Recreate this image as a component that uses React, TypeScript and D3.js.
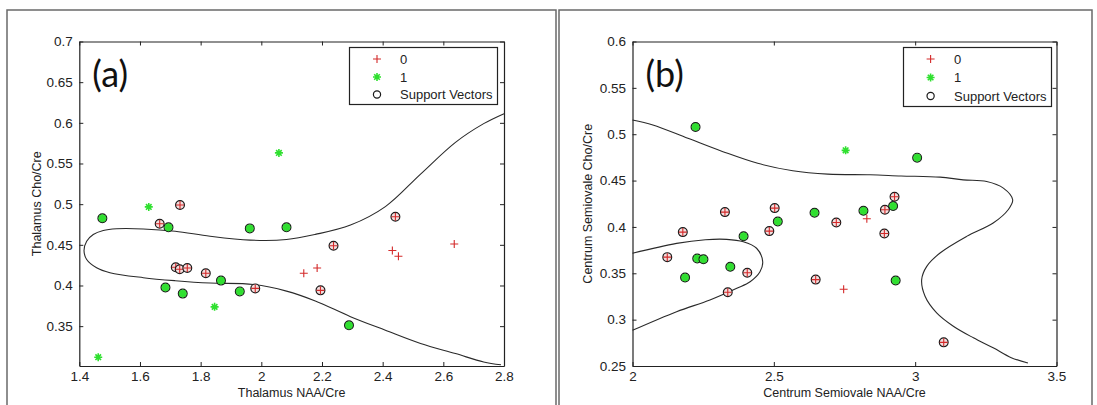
import * as d3 from "d3";
import { useEffect, useRef } from "react";

type Pt = [number, number];

// ---- panel (a) : Thalamus ----
const thalamusClass0: Pt[] = [[2.14, 0.415], [2.184, 0.4215], [2.432, 0.443], [2.452, 0.436], [2.636, 0.451]];
const thalamusClass0SV: Pt[] = [
  [1.665, 0.476], [1.732, 0.499], [1.718, 0.4224], [1.731, 0.42], [1.756, 0.4215],
  [1.817, 0.415], [1.98, 0.3964], [2.195, 0.394], [2.238, 0.4488], [2.442, 0.4846],
];
const thalamusClass1: Pt[] = [[1.629, 0.4966], [2.058, 0.563], [1.846, 0.3737], [1.4624, 0.3118]];
const thalamusClass1SV: Pt[] = [
  [1.476, 0.4826], [1.694, 0.4715], [1.962, 0.4702], [2.083, 0.4715], [1.684, 0.3976],
  [1.741, 0.39], [1.867, 0.406], [1.929, 0.3927], [2.289, 0.351],
];
const thalamusBoundary: Pt[] = [
  [2.8, 0.6113], [2.733, 0.599], [2.64, 0.576], [2.525, 0.537], [2.409, 0.497], [2.294, 0.4743],
  [2.178, 0.4628], [2.083, 0.4565], [1.963, 0.4558], [1.831, 0.4605], [1.716, 0.4667], [1.611, 0.4695],
  [1.523, 0.4697], [1.479, 0.4676], [1.446, 0.4627], [1.4243, 0.4544], [1.4155, 0.443], [1.4243, 0.432],
  [1.457, 0.4218], [1.501, 0.4157], [1.611, 0.4096], [1.716, 0.4059], [1.831, 0.403], [1.974, 0.4013],
  [2.083, 0.3931], [2.178, 0.381], [2.294, 0.3617], [2.409, 0.345], [2.525, 0.3287], [2.64, 0.3163],
  [2.733, 0.306], [2.79, 0.3025],
];
const thalamusXTicks = [1.4, 1.6, 1.8, 2, 2.2, 2.4, 2.6, 2.8];
const thalamusYTicks = [0.35, 0.4, 0.45, 0.5, 0.55, 0.6, 0.65, 0.7];

// ---- panel (b) : Centrum Semiovale ----
const centrumClass0: Pt[] = [[2.829, 0.4088], [2.747, 0.3328]];
const centrumClass0SV: Pt[] = [
  [2.123, 0.3674], [2.178, 0.3944], [2.327, 0.416], [2.337, 0.3296], [2.406, 0.3505],
  [2.484, 0.3955], [2.503, 0.4203], [2.648, 0.3432], [2.721, 0.4048], [2.891, 0.3929],
  [2.893, 0.4185], [2.927, 0.4325], [3.101, 0.2755],
];
const centrumClass1: Pt[] = [[2.754, 0.4826]];
const centrumClass1SV: Pt[] = [
  [2.223, 0.5078], [2.186, 0.3454], [2.229, 0.366], [2.251, 0.3652], [2.346, 0.357],
  [2.393, 0.39], [2.514, 0.4059], [2.644, 0.4153], [2.817, 0.4174], [2.922, 0.4225],
  [3.007, 0.4747], [2.931, 0.3422],
];
const centrumBoundaryOuter: Pt[] = [
  [2.0, 0.5154], [2.072, 0.51], [2.196, 0.4956], [2.32, 0.4812], [2.443, 0.4686], [2.567, 0.4606],
  [2.691, 0.457], [2.84, 0.4562], [2.95, 0.455], [3.088, 0.4537], [3.17, 0.4508], [3.253, 0.449],
  [3.312, 0.4419], [3.345, 0.4293], [3.329, 0.4185], [3.276, 0.4042], [3.182, 0.3898], [3.088, 0.3719],
  [3.041, 0.3575], [3.023, 0.3432], [3.035, 0.3252], [3.076, 0.3073], [3.135, 0.2929], [3.206, 0.2804],
  [3.276, 0.2696], [3.34, 0.259], [3.399, 0.2532],
];
const centrumBoundaryInner: Pt[] = [
  [2.0, 0.3716], [2.156, 0.3823], [2.258, 0.3862], [2.333, 0.3866], [2.392, 0.384], [2.439, 0.377],
  [2.4606, 0.3625], [2.451, 0.3517], [2.416, 0.3409], [2.369, 0.3338], [2.274, 0.3212], [2.156, 0.3086],
  [2.0, 0.2885],
];
const centrumXTicks = [2, 2.5, 3, 3.5];
const centrumYTicks = [0.25, 0.3, 0.35, 0.4, 0.45, 0.5, 0.55, 0.6];

const legendLabels = ["0", "1", "Support Vectors"];

const FONT = "'Liberation Sans', Arial, Helvetica, sans-serif";
const RED = "#d42a2a";
const GREEN = "#2fe02f";
const AXIS = "#222";

interface PanelProps {
  tag: string;
  frame: [number, number];
  box: { left: number; right: number; top: number; bottom: number };
  xDomain: [number, number];
  yDomain: [number, number];
  xTicks: number[];
  yTicks: number[];
  xLabel: string;
  yLabel: string;
  yLabelX: number;
  class0: Pt[];
  class0SV: Pt[];
  class1: Pt[];
  class1SV: Pt[];
  boundaries: Pt[][];
  legend: { x: number; y: number; w: number; h: number; mx: number; tx: number; rows: number[] };
}

const Panel = (props: PanelProps) => {
  const ref = useRef<SVGGElement>(null);

  useEffect(() => {
    const g = d3.select(ref.current);
    g.selectAll("*").remove();
    const { box } = props;

    const x = d3.scaleLinear().domain(props.xDomain).range([box.left, box.right]);
    const y = d3.scaleLinear().domain(props.yDomain).range([box.bottom, box.top]);

    // frame of the panel
    g.append("path")
      .attr("d", `M${props.frame[0]},406V10H${props.frame[1]}V406`)
      .attr("fill", "none")
      .attr("stroke", "#6a6a6a")
      .attr("stroke-width", 1.5);

    g.append("rect")
      .attr("x", box.left).attr("y", box.top)
      .attr("width", box.right - box.left).attr("height", box.bottom - box.top)
      .attr("fill", "#fff");

    // decision boundary
    const line = d3.line<Pt>().x(d => x(d[0])).y(d => y(d[1])).curve(d3.curveCatmullRom.alpha(0.5));
    props.boundaries.forEach(b => {
      g.append("path").attr("d", line(b)).attr("fill", "none").attr("stroke", "#2a2a2a").attr("stroke-width", 1.1);
    });

    const fmt = (v: number) => String(+v.toFixed(2));

    // axes, MATLAB style ticks inside on all sides
    const axB = g.append("g").attr("transform", `translate(0,${box.bottom})`)
      .call(d3.axisBottom(x).tickValues(props.xTicks).tickSizeInner(-4).tickSizeOuter(0).tickPadding(5).tickFormat(d => fmt(+d)));
    const axL = g.append("g").attr("transform", `translate(${box.left},0)`)
      .call(d3.axisLeft(y).tickValues(props.yTicks).tickSizeInner(-4).tickSizeOuter(0).tickPadding(6.5).tickFormat(d => fmt(+d)));
    const axT = g.append("g").attr("transform", `translate(0,${box.top})`)
      .call(d3.axisTop(x).tickValues(props.xTicks).tickSizeInner(-4).tickSizeOuter(0).tickFormat(() => ""));
    const axR = g.append("g").attr("transform", `translate(${box.right},0)`)
      .call(d3.axisRight(y).tickValues(props.yTicks).tickSizeInner(-4).tickSizeOuter(0).tickFormat(() => ""));
    [axB, axL, axT, axR].forEach(a => {
      a.attr("color", AXIS).attr("font-family", FONT).attr("font-size", 13.5);
      a.selectAll(".domain").attr("stroke-width", 1.2);
    });

    // markers
    const plus = (px: number, py: number) =>
      g.append("path").attr("d", `M${px - 4},${py}H${px + 4}M${px},${py - 4}V${py + 4}`)
        .attr("stroke", RED).attr("stroke-width", 1.1).attr("fill", "none");
    const star = (px: number, py: number) =>
      g.append("path")
        .attr("d", `M${px - 4},${py}H${px + 4}M${px},${py - 4}V${py + 4}M${px - 2.8},${py - 2.8}L${px + 2.8},${py + 2.8}M${px - 2.8},${py + 2.8}L${px + 2.8},${py - 2.8}`)
        .attr("stroke", GREEN).attr("stroke-width", 1.6).attr("fill", "none");
    const ring = (px: number, py: number, fill: string) =>
      g.append("circle").attr("cx", px).attr("cy", py).attr("r", 4.4)
        .attr("fill", fill).attr("stroke", "#1a1a1a").attr("stroke-width", 1.2);

    props.class1SV.forEach(d => { ring(x(d[0]), y(d[1]), "#48d848"); star(x(d[0]), y(d[1])); });
    props.class1.forEach(d => star(x(d[0]), y(d[1])));
    props.class0SV.forEach(d => { ring(x(d[0]), y(d[1]), "#f3dede"); plus(x(d[0]), y(d[1])); });
    props.class0.forEach(d => plus(x(d[0]), y(d[1])));

    // axis labels
    g.append("text")
      .attr("x", (box.left + box.right) / 2).attr("y", 397)
      .attr("text-anchor", "middle").attr("font-family", FONT).attr("font-size", 12.5).attr("fill", AXIS)
      .text(props.xLabel);
    g.append("text")
      .attr("transform", `translate(${props.yLabelX},${(box.top + box.bottom) / 2}) rotate(-90)`)
      .attr("text-anchor", "middle").attr("font-family", FONT).attr("font-size", 12.5).attr("fill", AXIS)
      .text(props.yLabel);

    // panel tag
    g.append("text")
      .attr("x", box.left + 13).attr("y", 87)
      .attr("font-family", "Lato, 'Open Sans', sans-serif").attr("font-size", 36).attr("fill", "#111")
      .text(props.tag);

    // legend
    const lg = props.legend;
    g.append("rect").attr("x", lg.x).attr("y", lg.y).attr("width", lg.w).attr("height", lg.h)
      .attr("fill", "#fff").attr("stroke", AXIS).attr("stroke-width", 1.2);
    plus(lg.mx, lg.rows[0]);
    star(lg.mx, lg.rows[1]);
    g.append("circle").attr("cx", lg.mx).attr("cy", lg.rows[2]).attr("r", 3.6)
      .attr("fill", "none").attr("stroke", "#1a1a1a").attr("stroke-width", 1.2);
    legendLabels.forEach((t, i) => {
      g.append("text").attr("x", lg.tx).attr("y", lg.rows[i] + 4.7)
        .attr("font-family", FONT).attr("font-size", 13).attr("fill", AXIS).text(t);
    });
  }, [props]);

  return <g ref={ref} />;
};

const App = () => {
  return (
    <svg width={1097} height={405} style={{ position: "absolute", left: 0, top: 0, background: "#fff" }}>
      <Panel
        tag="(a)"
        frame={[7, 556]}
        box={{ left: 79.3, right: 504, top: 41.5, bottom: 366 }}
        xDomain={[1.4, 2.8]}
        yDomain={[0.301, 0.7]}
        xTicks={thalamusXTicks}
        yTicks={thalamusYTicks}
        xLabel="Thalamus NAA/Cre"
        yLabel="Thalamus Cho/Cre"
        yLabelX={41}
        class0={thalamusClass0}
        class0SV={thalamusClass0SV}
        class1={thalamusClass1}
        class1SV={thalamusClass1SV}
        boundaries={[thalamusBoundary]}
        legend={{ x: 349.5, y: 47.5, w: 148, h: 57, mx: 377, tx: 400, rows: [59, 77, 94.5] }}
      />
      <Panel
        tag="(b)"
        frame={[559, 1092]}
        box={{ left: 632.5, right: 1056.5, top: 41.5, bottom: 366 }}
        xDomain={[2, 3.5]}
        yDomain={[0.25, 0.6]}
        xTicks={centrumXTicks}
        yTicks={centrumYTicks}
        xLabel="Centrum Semiovale NAA/Cre"
        yLabel="Centrum Semiovale Cho/Cre"
        yLabelX={592}
        class0={centrumClass0}
        class0SV={centrumClass0SV}
        class1={centrumClass1}
        class1SV={centrumClass1SV}
        boundaries={[centrumBoundaryOuter, centrumBoundaryInner]}
        legend={{ x: 903.5, y: 47.5, w: 148, h: 59, mx: 930.6, tx: 954, rows: [59, 77.5, 96] }}
      />
    </svg>
  );
};

export default App;
